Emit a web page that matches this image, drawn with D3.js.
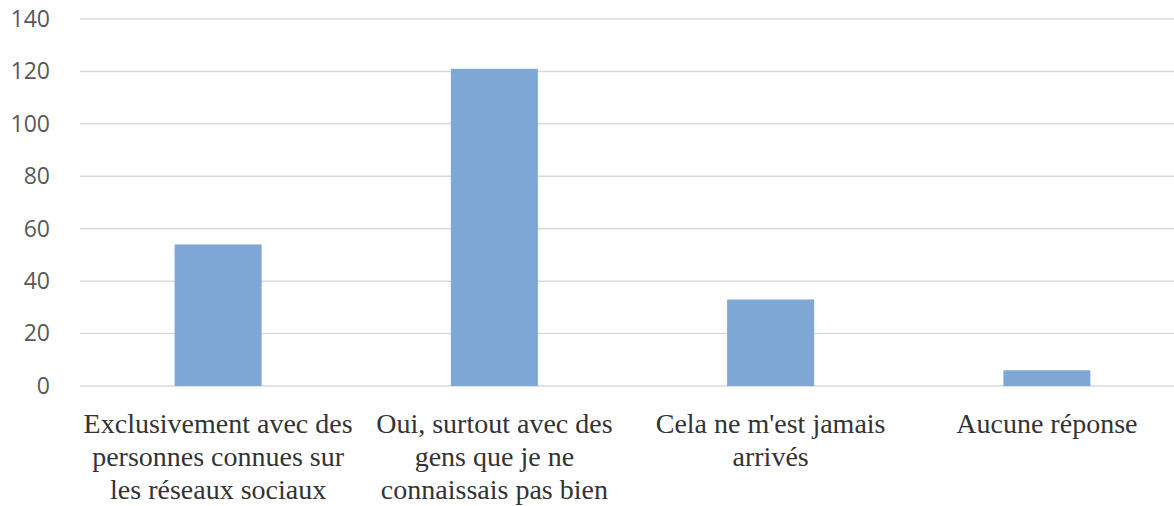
<!DOCTYPE html>
<html>
<head>
<meta charset="utf-8">
<script src="https://cdn.jsdelivr.net/npm/d3@7"></script>
<style>
  body { margin: 0; background: #fff; }
  .cat-label { font-family: "Liberation Serif", "DejaVu Serif", serif; }
</style>
</head>
<body>
<svg id="chart" width="1174" height="506"></svg>
<script>
// Data
const categories = [
  ["Exclusivement avec des", "personnes connues sur", "les réseaux sociaux"],
  ["Oui, surtout avec des", "gens que je ne", "connaissais pas bien"],
  ["Cela ne m'est jamais", "arrivés"],
  ["Aucune réponse"]
];
const values = [54, 121, 33, 6];
const yTicks = [0, 20, 40, 60, 80, 100, 120, 140];

const svg = d3.select("#chart");

// Plot area bounds (the right side runs slightly off the picture)
const plot = { left: 80, right: 1185, top: 19, bottom: 386 };

const x = d3.scaleBand()
  .domain(d3.range(values.length))
  .range([plot.left, plot.right])
  .paddingInner(0.685)
  .paddingOuter(0.3425);

const y = d3.scaleLinear()
  .domain([0, 140])
  .range([plot.bottom, plot.top]);

// Gridlines
svg.append("g")
  .selectAll("line")
  .data(yTicks)
  .enter()
  .append("line")
    .attr("x1", plot.left)
    .attr("x2", plot.right)
    .attr("y1", d => y(d))
    .attr("y2", d => y(d))
    .attr("stroke", "#d9d9d9")
    .attr("stroke-width", 1.5);

// Y axis labels
const yAxis = svg.append("g")
  .attr("transform", `translate(${plot.left}, 0)`)
  .call(d3.axisLeft(y).tickValues(yTicks).tickSize(0).tickPadding(30));
yAxis.select(".domain").remove();
yAxis.selectAll("text")
  .attr("fill", "#595959")
  .style("font-family", "'Open Sans', 'DejaVu Sans', sans-serif")
  .style("font-size", "23px");

// Bars
svg.append("g")
  .selectAll("rect")
  .data(values)
  .enter()
  .append("rect")
    .attr("x", (d, i) => x(i))
    .attr("y", d => y(d))
    .attr("width", x.bandwidth())
    .attr("height", d => y(0) - y(d))
    .attr("fill", "#7ea7d5");

// Category labels, wrapped as in the original
const labels = svg.append("g")
  .selectAll("text")
  .data(categories)
  .enter()
  .append("text")
    .attr("class", "cat-label")
    .attr("x", (d, i) => x(i) + x.bandwidth() / 2)
    .attr("y", 433)
    .attr("text-anchor", "middle")
    .attr("fill", "#333333")
    .style("font-size", "28px");

labels.selectAll("tspan")
  .data(d => d)
  .enter()
  .append("tspan")
    .attr("x", function() { return d3.select(this.parentNode).attr("x"); })
    .attr("dy", (d, i) => i === 0 ? 0 : 33)
    .text(d => d);
</script>
</body>
</html>
